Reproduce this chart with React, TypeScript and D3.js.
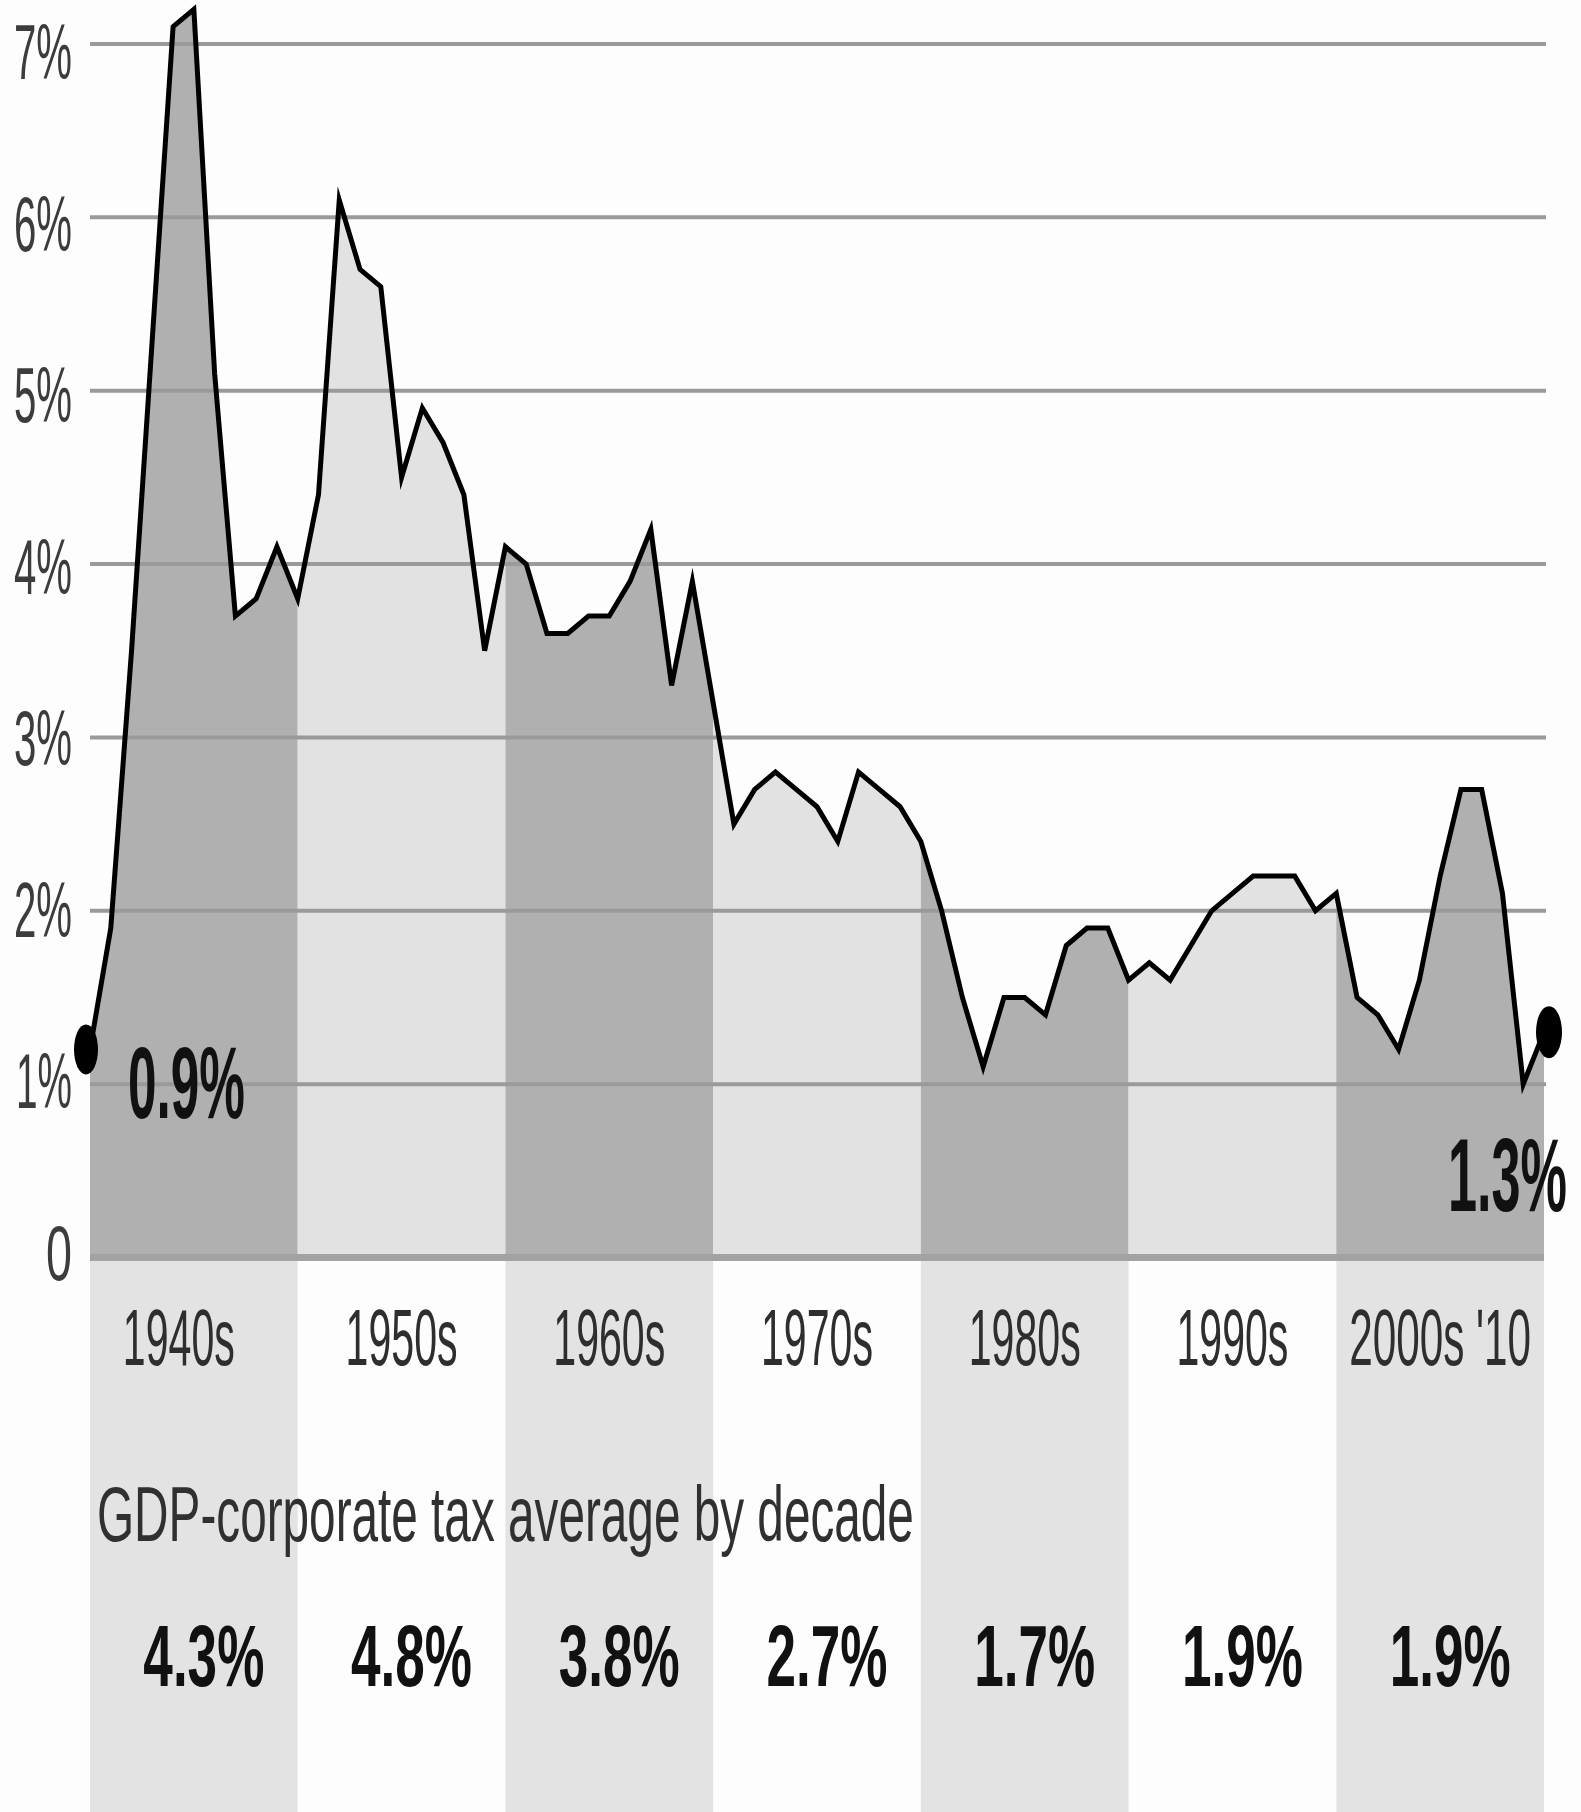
import React from "react";
import * as d3 from "d3";

// Corporate income tax receipts as a share of GDP, yearly (percent)
const years: number[] = [
  1940, 1941, 1942, 1943, 1944, 1945, 1946, 1947, 1948, 1949,
  1950, 1951, 1952, 1953, 1954, 1955, 1956, 1957, 1958, 1959,
  1960, 1961, 1962, 1963, 1964, 1965, 1966, 1967, 1968, 1969,
  1970, 1971, 1972, 1973, 1974, 1975, 1976, 1977, 1978, 1979,
  1980, 1981, 1982, 1983, 1984, 1985, 1986, 1987, 1988, 1989,
  1990, 1991, 1992, 1993, 1994, 1995, 1996, 1997, 1998, 1999,
  2000, 2001, 2002, 2003, 2004, 2005, 2006, 2007, 2008, 2009,
  2010,
];
const taxShare: number[] = [
  1.2, 1.9, 3.5, 5.3, 7.1, 7.2, 5.1, 3.7, 3.8, 4.1,
  3.8, 4.4, 6.1, 5.7, 5.6, 4.5, 4.9, 4.7, 4.4, 3.5,
  4.1, 4.0, 3.6, 3.6, 3.7, 3.7, 3.9, 4.2, 3.3, 3.9,
  3.2, 2.5, 2.7, 2.8, 2.7, 2.6, 2.4, 2.8, 2.7, 2.6,
  2.4, 2.0, 1.5, 1.1, 1.5, 1.5, 1.4, 1.8, 1.9, 1.9,
  1.6, 1.7, 1.6, 1.8, 2.0, 2.1, 2.2, 2.2, 2.2, 2.0,
  2.1, 1.5, 1.4, 1.2, 1.6, 2.2, 2.7, 2.7, 2.1, 1.0,
  1.3,
];

// Decades and their average share
const decadeStarts: number[] = [1940, 1950, 1960, 1970, 1980, 1990, 2000];
const decadeLabels: string[] = ["1940s", "1950s", "1960s", "1970s", "1980s", "1990s", "2000s '10"];
const decadeAverages: string[] = ["4.3%", "4.8%", "3.8%", "2.7%", "1.7%", "1.9%", "1.9%"];

// Y axis
const yTicks: number[] = [0, 1, 2, 3, 4, 5, 6, 7];
const yTickLabels: string[] = ["0", "1%", "2%", "3%", "4%", "5%", "6%", "7%"];

// End-point annotations
const startLabel = "0.9%";
const endLabel = "1.3%";
const subtitle = "GDP-corporate tax average by decade";

const W = 1581;
const H = 1812;
const FAMILY = "'Liberation Sans', Arial, Helvetica, sans-serif";

const DARK = "#b0b0b0";
const LIGHT = "#e2e2e2";
const STRIP = "#e3e3e3";

// Measure the natural width of a string so narrow lettering can be made by horizontal scaling
let measureCtx: CanvasRenderingContext2D | null = null;
function naturalWidth(text: string, size: number, bold: boolean): number {
  if (!measureCtx) measureCtx = document.createElement("canvas").getContext("2d");
  if (!measureCtx) return text.length * size * 0.55;
  measureCtx.font = `${bold ? "bold " : ""}${size}px ${FAMILY}`;
  return measureCtx.measureText(text).width;
}

type NarrowProps = {
  text: string;
  left: number;
  baseline: number;
  width: number;
  size: number;
  bold?: boolean;
  fill: string;
};

function NarrowText({ text, left, baseline, width, size, bold = false, fill }: NarrowProps) {
  const sx = width / naturalWidth(text, size, bold);
  return (
    <text
      transform={`translate(${left},${baseline}) scale(${sx},1)`}
      x={0}
      y={0}
      fontFamily={FAMILY}
      fontSize={size}
      fontWeight={bold ? "bold" : "normal"}
      fill={fill}
    >
      {text}
    </text>
  );
}

export default function App() {
  const firstYear = years[0];
  const lastYear = years[years.length - 1];
  const x = d3.scaleLinear().domain([firstYear, lastYear]).range([90, 1544]);
  const y = d3.scaleLinear().domain([0, 7]).range([1257.5, 44]);
  // tick-label baselines sit a little below their gridlines
  const yLabel = d3.scaleLinear().domain([0, 7]).range([1280, 79]);

  const points = years.map((yr, i) => ({ yr, v: taxShare[i] }));
  const area = d3
    .area<{ yr: number; v: number }>()
    .x((d) => x(d.yr))
    .y0(y(0))
    .y1((d) => y(d.v));
  const line = d3
    .line<{ yr: number; v: number }>()
    .x((d) => x(d.yr))
    .y((d) => y(d.v));

  const first = points[0];
  const last = points[points.length - 1];

  const yTickWidth = (t: string) => (t === "0" ? 26 : t === "1%" ? 56 : 58);
  const colCenter = (s: number) => (x(s) + x(Math.min(s + 10, lastYear))) / 2;

  return (
    <div style={{ position: "absolute", left: 0, top: 0 }}>
      <svg width={W} height={H} viewBox={`0 0 ${W} ${H}`} style={{ display: "block" }}>
        <defs>
          <clipPath id="under-line">
            <path d={area(points) ?? ""} />
          </clipPath>
        </defs>
        <rect x={0} y={0} width={W} height={H} fill="#fdfdfd" />

        {/* lower table strips */}
        {decadeStarts.map((s, i) =>
          i % 2 === 0 ? (
            <rect
              key={`strip-${s}`}
              x={x(s)}
              y={y(0)}
              width={x(Math.min(s + 10, lastYear)) - x(s)}
              height={H - y(0)}
              fill={STRIP}
            />
          ) : null
        )}

        {/* decade bands under the curve */}
        <g clipPath="url(#under-line)">
          {decadeStarts.map((s, i) => (
            <rect
              key={`band-${s}`}
              x={x(s)}
              y={0}
              width={x(Math.min(s + 10, lastYear)) - x(s)}
              height={y(0)}
              fill={i % 2 === 0 ? DARK : LIGHT}
            />
          ))}
        </g>

        {/* gridlines */}
        {yTicks
          .filter((t) => t > 0)
          .map((t) => (
            <line
              key={`grid-${t}`}
              x1={x(firstYear)}
              x2={x(lastYear) + 2}
              y1={y(t)}
              y2={y(t)}
              stroke="#9a9a9a"
              strokeWidth={4}
            />
          ))}
        <line
          x1={x(firstYear)}
          x2={x(lastYear)}
          y1={y(0)}
          y2={y(0)}
          stroke="#a2a2a2"
          strokeWidth={7}
        />

        {/* y tick labels */}
        {yTicks.map((t, i) => {
          const w = yTickWidth(yTickLabels[i]);
          return (
            <NarrowText
              key={`yl-${t}`}
              text={yTickLabels[i]}
              left={72 - w}
              baseline={yLabel(t)}
              width={w}
              size={78}
              fill="#3c3c3c"
            />
          );
        })}

        {/* series line and end markers */}
        <path
          d={line(points) ?? ""}
          fill="none"
          stroke="#000"
          strokeWidth={5}
          strokeLinejoin="miter"
          strokeMiterlimit={6}
        />
        <ellipse cx={x(first.yr) - 4} cy={y(first.v)} rx={12} ry={25} fill="#000" />
        <ellipse cx={x(last.yr) + 5} cy={y(last.v)} rx={13} ry={26} fill="#000" />

        <NarrowText text={startLabel} left={128} baseline={1118} width={117} size={102} bold fill="#111" />
        <NarrowText text={endLabel} left={1448} baseline={1211} width={119} size={104} bold fill="#111" />

        {/* decade labels */}
        {decadeStarts.map((s, i) => {
          const cx = colCenter(s) + (i === 0 ? -15 : 0);
          const w = decadeLabels[i].length > 6 ? 182 : 112;
          return (
            <NarrowText
              key={`dl-${s}`}
              text={decadeLabels[i]}
              left={cx - w / 2}
              baseline={1365}
              width={w}
              size={80}
              fill="#2e2e2e"
            />
          );
        })}

        <NarrowText text={subtitle} left={97} baseline={1541} width={817} size={77} fill="#303030" />

        {/* decade averages */}
        {decadeStarts.map((s, i) => {
          const w = 121;
          const cx = colCenter(s) + 10;
          return (
            <NarrowText
              key={`avg-${s}`}
              text={decadeAverages[i]}
              left={cx - w / 2}
              baseline={1686}
              width={w}
              size={88}
              bold
              fill="#111"
            />
          );
        })}
      </svg>
    </div>
  );
}
